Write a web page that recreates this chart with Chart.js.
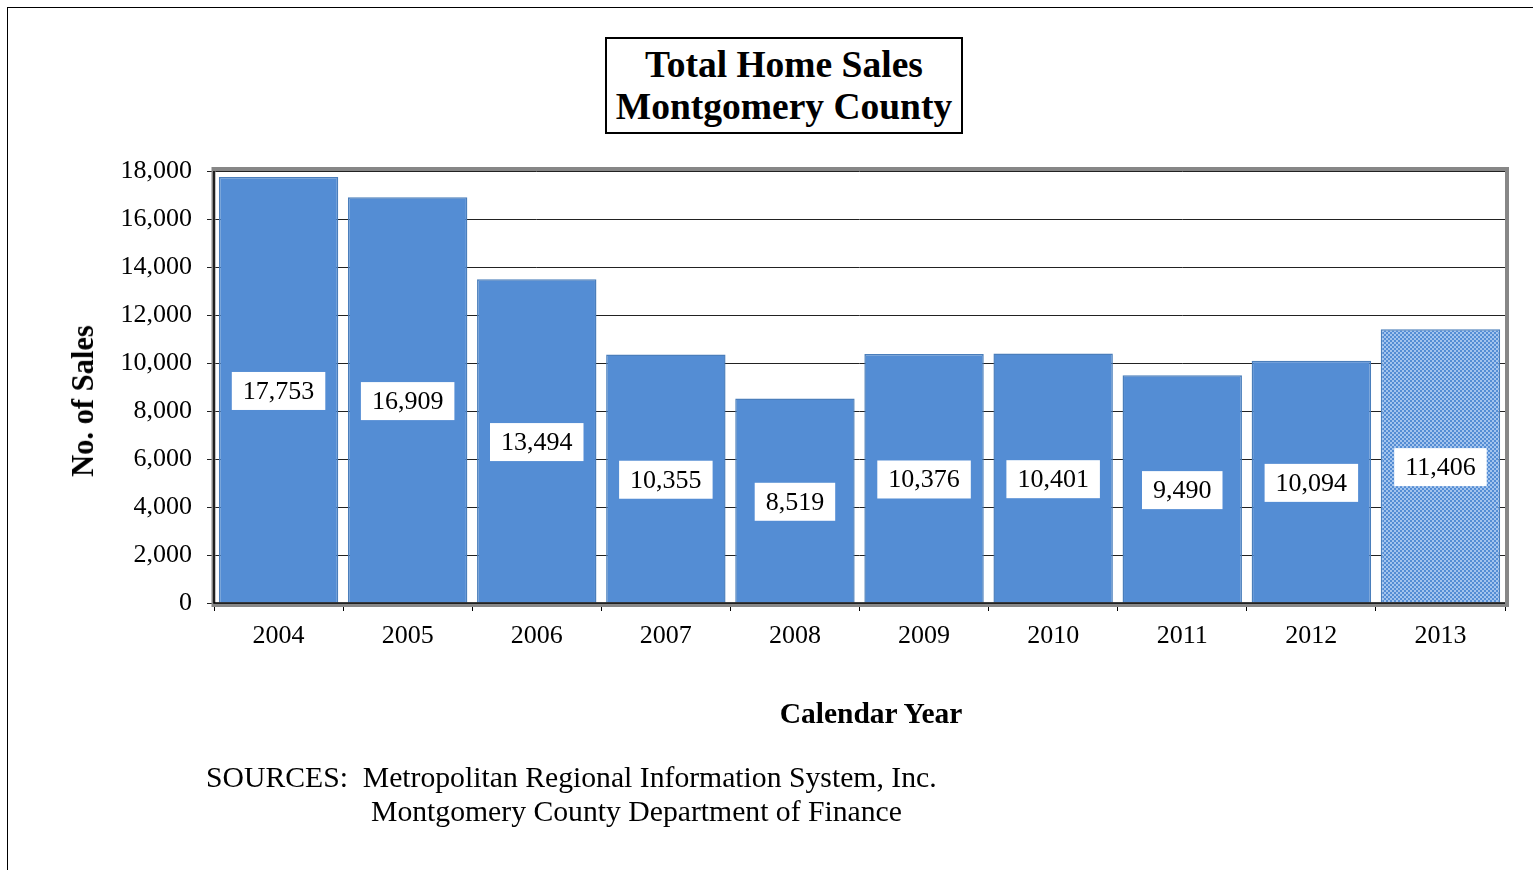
<!DOCTYPE html>
<html>
<head>
<meta charset="utf-8">
<script src="https://cdn.jsdelivr.net/npm/chart.js@4.4.0/dist/chart.umd.min.js"></script>
<style>
    html, body { margin: 0; padding: 0; background: #fff; }
    #wrap { position: relative; width: 1533px; height: 870px; overflow: hidden; font-family: "Liberation Serif", "Times New Roman", serif; color: #000; }
    #frame { position: absolute; left: 7px; top: 7px; width: 1600px; height: 900px; border-left: 1px solid #000; border-top: 1px solid #000; }
    #chartSales { position: absolute; left: 0; top: 0; }
    #title { position: absolute; left: 605px; top: 37px; width: 354px; height: 88px; border: 2px solid #000; background: #fff;
             font-weight: bold; font-size: 37.5px; line-height: 42px; text-align: center; padding-top: 5px; box-sizing: content-box; white-space: nowrap; }
    .axisTitle { position: absolute; font-weight: bold; font-size: 29.5px; line-height: 34px; white-space: nowrap; transform: translate(-50%, -50%); }
    #yTitle { left: 83px; top: 401px; transform: translate(-50%, -50%) rotate(-90deg); font-size: 30.5px; }
    #xTitle { left: 871px; top: 713px; }
    .src { position: absolute; font-size: 29.7px; line-height: 34px; white-space: pre; }
</style>
</head>
<body>
<div id="wrap">
    <div id="frame"></div>
    <canvas id="chartSales" width="1533" height="870"></canvas>
    <div id="title">Total Home Sales<br>Montgomery County</div>
    <div id="yTitle" class="axisTitle">No. of Sales</div>
    <div id="xTitle" class="axisTitle">Calendar Year</div>
    <div class="src" style="left:206px; top:760px;">SOURCES:  Metropolitan Regional Information System, Inc.</div>
    <div class="src" style="left:371px; top:794px;">Montgomery County Department of Finance</div>
</div>
<script>
    const years = ['2004', '2005', '2006', '2007', '2008', '2009', '2010', '2011', '2012', '2013'];
    const sales = [17753, 16909, 13494, 10355, 8519, 10376, 10401, 9490, 10094, 11406];
    const yMax = 18000;
    const yStep = 2000;

    const serif = '"Liberation Serif", "Times New Roman", serif';
    const palette = {
        bar: '#548DD4',
        edge: '#4A7EBB',
        light: '#A3C4EE',
        frame: '#878787',
    };

    function fmt(v) {
        return Number(v).toLocaleString('en-US');
    }

    // checkered fill for the last year
    function checkerPattern() {
        const c = document.createElement('canvas');
        c.width = 4;
        c.height = 4;
        const g = c.getContext('2d');
        g.fillStyle = palette.bar;
        g.fillRect(0, 0, 4, 4);
        g.fillStyle = palette.light;
        g.fillRect(0, 0, 2, 2);
        g.fillRect(2, 2, 2, 2);
        return g.createPattern(c, 'repeat');
    }

    const fills = years.map(function (y, i) {
        return i === years.length - 1 ? checkerPattern() : palette.bar;
    });

    const plotFrame = {
        id: 'plotFrame',
        afterDatasetsDraw(chart) {
            const { ctx, chartArea: a } = chart;
            ctx.save();
            ctx.strokeStyle = palette.frame;
            ctx.lineWidth = 4;
            ctx.strokeRect(a.left - 0.5, a.top - 2, a.right - a.left + 2.5, a.bottom - a.top + 4);
            ctx.strokeStyle = '#000';
            ctx.lineWidth = 1.5;
            ctx.beginPath();
            ctx.moveTo(a.left, a.top);
            ctx.lineTo(a.left, a.bottom);
            ctx.lineTo(a.right, a.bottom);
            ctx.stroke();
            ctx.restore();
        },
    };

    const valueBoxes = {
        id: 'valueBoxes',
        afterDatasetsDraw(chart) {
            const ctx = chart.ctx;
            const y = chart.scales.y;
            const meta = chart.getDatasetMeta(0);
            ctx.save();
            ctx.font = '26px ' + serif;
            ctx.textAlign = 'center';
            ctx.textBaseline = 'middle';
            meta.data.forEach(function (bar, i) {
                const txt = fmt(sales[i]);
                const cy = y.getPixelForValue(sales[i] / 2);
                const w = ctx.measureText(txt).width + 22;
                const h = 38;
                ctx.fillStyle = '#fff';
                ctx.fillRect(bar.x - w / 2, cy - h / 2 + 1, w, h);
                ctx.fillStyle = '#000';
                ctx.fillText(txt, bar.x, cy + 2);
            });
            ctx.restore();
        },
    };

    new Chart(document.getElementById('chartSales'), {
        type: 'bar',
        data: {
            labels: years,
            datasets: [{
                label: 'Total Home Sales',
                data: sales,
                backgroundColor: fills,
                borderColor: palette.edge,
                borderWidth: 1.5,
                barPercentage: 0.925,
                categoryPercentage: 1,
            }],
        },
        options: {
            responsive: false,
            animation: false,
            layout: { padding: { top: 171, right: 28, bottom: 140, left: 0 } },
            plugins: { legend: { display: false }, tooltip: { enabled: false } },
            scales: {
                x: {
                    afterFit(scale) { scale.height = 870 - 140 - 603; },
                    grid: { drawOnChartArea: false, drawTicks: true, tickLength: 8, color: '#000', offset: true },
                    border: { display: false },
                    ticks: { color: '#000', font: { family: serif, size: 26 }, padding: 10 },
                },
                y: {
                    afterFit(scale) { scale.width = 214; },
                    min: 0,
                    max: yMax,
                    grid: { color: '#222', lineWidth: 1, drawTicks: true, tickLength: 7 },
                    border: { display: false },
                    ticks: {
                        stepSize: yStep,
                        color: '#000',
                        font: { family: serif, size: 26 },
                        padding: 15,
                        callback: function (v) { return fmt(v); },
                    },
                },
            },
        },
        plugins: [plotFrame, valueBoxes],
    });
</script>
</body>
</html>
